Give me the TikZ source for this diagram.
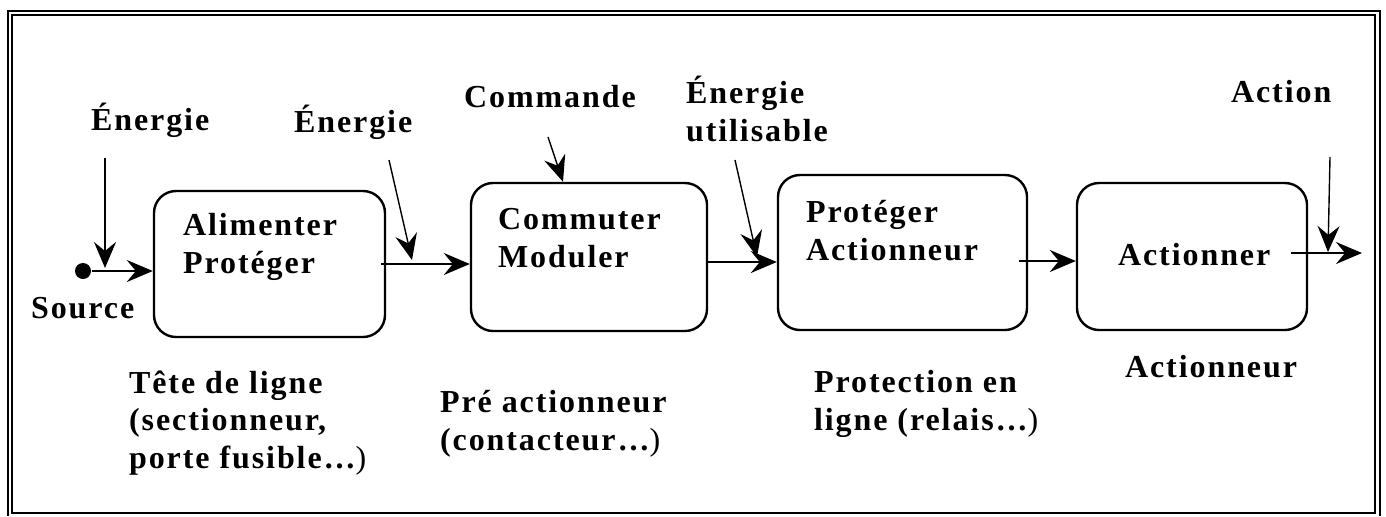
\documentclass[tikz,border=0pt]{standalone}
\usepackage{fontspec}
\setmainfont{Liberation Serif}[LetterSpace=6]
\usepackage{xcolor}
\usepackage{tikz}
\usetikzlibrary{arrows.meta}

\newcommand{\etiq}{\fontsize{16}{18.75}\selectfont\bfseries}

\begin{document}
\begin{tikzpicture}[x=0.5pt,y=-0.5pt,line width=1.1pt,
    >={Stealth[length=13pt,width=11pt,inset=4.5pt]},
    bloc/.style={draw,rounded corners=11pt,line width=1.2pt,inner sep=0pt},
    texte/.style={font=\etiq,inner sep=0pt,anchor=base west,align=left}]
    \useasboundingbox (0,0) rectangle (1386,516);

    % cadre double
    \draw (12,15) rectangle (1375,513);
    \draw (8,516) -- (8,11) -- (1380,11) -- (1380,516);

    % les quatre fonctions
    \node[bloc,minimum width=115.5pt,minimum height=73pt](alimenter) at (269.5,264) {};
    \node[bloc,minimum width=118pt,minimum height=74pt](commuter) at (589,257) {};
    \node[bloc,minimum width=124.5pt,minimum height=77.5pt](proteger) at (902.5,252.5) {};
    \node[bloc,minimum width=115pt,minimum height=73.5pt](actionner) at (1192,256.5) {};

    % (base = ligne du bas pour les textes sur plusieurs lignes)
    \node[texte](txtAlimenter) at (182,273) {Alimenter\\Protéger};
    \node[texte](txtCommuter) at (497,267) {Commuter\\Moduler};
    \node[texte](txtProteger) at (805,260) {Protéger\\Actionneur};
    \node[texte](txtActionner) at (1117,265) {Actionner};

    % entrees
    \node[texte](lblEnergieA) at (90,130) {Énergie};
    \node[texte](lblEnergieB) at (293,132) {Énergie};
    \node[texte](lblCommande) at (463,107) {Commande};
    \node[texte](lblUtilisable) at (685,141) {Énergie\\utilisable};
    \node[texte](lblAction) at (1230,102) {Action};
    \node[texte](lblSource) at (30,318) {Source};

    % sous les blocs
    \node[texte](teteLigne) at (128,468) {Tête de ligne\\(sectionneur,\\porte fusible…{\mdseries)}};
    \node[texte](preAct) at (439,450) {Pré actionneur\\(contacteur…{\mdseries)}};
    \node[texte](protLigne) at (813,430) {Protection en\\ligne (relais…{\mdseries)}};
    \node[texte](lblActionneur) at (1124,377) {Actionneur};

    % chaine d'energie
    \node[circle,fill,inner sep=0pt,minimum size=8pt](pointSource) at (83,271) {};
    \draw [->] (pointSource) -- (pointSource -| alimenter.west);
    \coordinate (sortieAlim) at ([xshift=-2.5pt]alimenter.east);
    \draw [->] (sortieAlim) -- (sortieAlim -| commuter.west);
    \coordinate (sortieComm) at ([yshift=-2.5pt]commuter.east);
    \draw [->] (sortieComm) -- (sortieComm -| proteger.west);
    \coordinate (sortieProt) at ([xshift=-4.5pt,yshift=-4.25pt]proteger.east);
    \draw [->] (sortieProt) -- (sortieProt -| actionner.west);
    \coordinate (sortieAct) at ([xshift=-8.5pt,yshift=1.75pt]actionner.east);
    \coordinate (sortie) at (1362,253);
    \draw [->] (sortieAct) -- (sortie);

    % fleches d'apport
    \coordinate (departA) at (105,158);
    \coordinate (arriveeA) at (105,268);
    \draw [->] (departA) -- (arriveeA);
    \coordinate (departB) at (389,160);
    \coordinate (arriveeB) at (412,260);
    \draw [->,line width=0.7pt] (departB) -- (arriveeB);
    \coordinate (departC) at (548,137);
    \draw [->,line width=0.7pt] (departC) -- (commuter.north -| 563,0);
    \coordinate (departD) at (735,160);
    \coordinate (arriveeD) at (757,257);
    \draw [->,line width=0.7pt] (departD) -- (arriveeD);
    \coordinate (departE) at (1330,157);
    \coordinate (arriveeE) at (1328,252);
    \draw [->,line width=0.7pt] (departE) -- (arriveeE);
\end{tikzpicture}
\end{document}
